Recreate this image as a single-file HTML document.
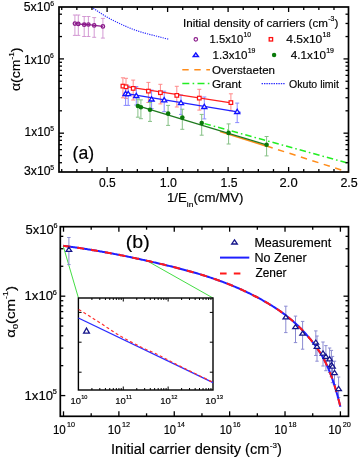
<!DOCTYPE html>
<html><head><meta charset="utf-8"><style>
html,body{margin:0;padding:0;background:#fff;}
svg{display:block;filter:blur(0.3px);}
text{font-family:"Liberation Sans", sans-serif;fill:#000;stroke:#000;stroke-width:0.15px;}
</style></head><body>
<svg width="359" height="459" viewBox="0 0 359 459">
<rect width="359" height="459" fill="#fff"/>
<polyline points="91.30,7.00 92.19,7.57 93.27,8.29 94.53,9.13 95.94,10.08 97.49,11.11 99.14,12.19 100.88,13.32 102.68,14.47 104.52,15.61 106.39,16.73 108.26,17.80 110.10,18.80 111.97,19.77 113.91,20.76 115.91,21.76 117.97,22.76 120.07,23.76 122.21,24.75 124.36,25.72 126.53,26.67 128.70,27.59 130.86,28.47 132.99,29.31 135.10,30.10 137.24,30.85 139.47,31.57 141.75,32.26 144.06,32.93 146.38,33.56 148.66,34.17 150.89,34.74 153.04,35.28 155.07,35.79 156.96,36.26 158.68,36.70 160.20,37.10 161.53,37.46 162.71,37.77 163.75,38.04 164.67,38.27 165.47,38.47 166.17,38.64 166.78,38.78 167.32,38.91 167.80,39.02 168.23,39.12 168.63,39.21 169.00,39.30" fill="none" stroke="#2a2aff" stroke-width="1.2" stroke-dasharray="1.2 1.1"/>
<line x1="204.50" y1="123.60" x2="348.50" y2="163.30" stroke="#22ee22" stroke-width="1.5" stroke-dasharray="6.5 3 1.6 3"/>
<line x1="74.90" y1="15.00" x2="74.90" y2="35.40" stroke="#cf8fcf" stroke-width="0.9" />
<line x1="72.90" y1="15.00" x2="76.90" y2="15.00" stroke="#cf8fcf" stroke-width="0.9" />
<line x1="72.90" y1="35.40" x2="76.90" y2="35.40" stroke="#cf8fcf" stroke-width="0.9" />
<line x1="78.30" y1="15.00" x2="78.30" y2="35.40" stroke="#cf8fcf" stroke-width="0.9" />
<line x1="76.30" y1="15.00" x2="80.30" y2="15.00" stroke="#cf8fcf" stroke-width="0.9" />
<line x1="76.30" y1="35.40" x2="80.30" y2="35.40" stroke="#cf8fcf" stroke-width="0.9" />
<line x1="84.20" y1="16.50" x2="84.20" y2="36.50" stroke="#cf8fcf" stroke-width="0.9" />
<line x1="82.20" y1="16.50" x2="86.20" y2="16.50" stroke="#cf8fcf" stroke-width="0.9" />
<line x1="82.20" y1="36.50" x2="86.20" y2="36.50" stroke="#cf8fcf" stroke-width="0.9" />
<line x1="88.40" y1="16.50" x2="88.40" y2="36.50" stroke="#cf8fcf" stroke-width="0.9" />
<line x1="86.40" y1="16.50" x2="90.40" y2="16.50" stroke="#cf8fcf" stroke-width="0.9" />
<line x1="86.40" y1="36.50" x2="90.40" y2="36.50" stroke="#cf8fcf" stroke-width="0.9" />
<line x1="94.20" y1="17.60" x2="94.20" y2="37.30" stroke="#cf8fcf" stroke-width="0.9" />
<line x1="92.20" y1="17.60" x2="96.20" y2="17.60" stroke="#cf8fcf" stroke-width="0.9" />
<line x1="92.20" y1="37.30" x2="96.20" y2="37.30" stroke="#cf8fcf" stroke-width="0.9" />
<line x1="102.90" y1="18.40" x2="102.90" y2="38.10" stroke="#cf8fcf" stroke-width="0.9" />
<line x1="100.90" y1="18.40" x2="104.90" y2="18.40" stroke="#cf8fcf" stroke-width="0.9" />
<line x1="100.90" y1="38.10" x2="104.90" y2="38.10" stroke="#cf8fcf" stroke-width="0.9" />
<polyline points="74.90,23.60 78.30,23.90 84.20,24.70 88.40,24.50 94.20,25.40 102.90,26.40" fill="none" stroke="#8a1a8a" stroke-width="1.2" />
<circle cx="74.9" cy="23.6" r="1.7" fill="none" stroke="#8a1a8a" stroke-width="1.3"/>
<circle cx="78.3" cy="23.9" r="1.7" fill="none" stroke="#8a1a8a" stroke-width="1.3"/>
<circle cx="84.2" cy="24.7" r="1.7" fill="none" stroke="#8a1a8a" stroke-width="1.3"/>
<circle cx="88.4" cy="24.5" r="1.7" fill="none" stroke="#8a1a8a" stroke-width="1.3"/>
<circle cx="94.2" cy="25.4" r="1.7" fill="none" stroke="#8a1a8a" stroke-width="1.3"/>
<circle cx="102.9" cy="26.4" r="1.7" fill="none" stroke="#8a1a8a" stroke-width="1.3"/>
<line x1="122.90" y1="77.80" x2="122.90" y2="97.80" stroke="#ff8a8a" stroke-width="1.0" />
<line x1="120.90" y1="77.80" x2="124.90" y2="77.80" stroke="#ff8a8a" stroke-width="1.0" />
<line x1="120.90" y1="97.80" x2="124.90" y2="97.80" stroke="#ff8a8a" stroke-width="1.0" />
<line x1="126.00" y1="78.30" x2="126.00" y2="98.50" stroke="#ff8a8a" stroke-width="1.0" />
<line x1="124.00" y1="78.30" x2="128.00" y2="78.30" stroke="#ff8a8a" stroke-width="1.0" />
<line x1="124.00" y1="98.50" x2="128.00" y2="98.50" stroke="#ff8a8a" stroke-width="1.0" />
<line x1="133.20" y1="80.10" x2="133.20" y2="100.00" stroke="#ff8a8a" stroke-width="1.0" />
<line x1="131.20" y1="80.10" x2="135.20" y2="80.10" stroke="#ff8a8a" stroke-width="1.0" />
<line x1="131.20" y1="100.00" x2="135.20" y2="100.00" stroke="#ff8a8a" stroke-width="1.0" />
<line x1="148.40" y1="82.40" x2="148.40" y2="102.50" stroke="#ff8a8a" stroke-width="1.0" />
<line x1="146.40" y1="82.40" x2="150.40" y2="82.40" stroke="#ff8a8a" stroke-width="1.0" />
<line x1="146.40" y1="102.50" x2="150.40" y2="102.50" stroke="#ff8a8a" stroke-width="1.0" />
<line x1="160.40" y1="84.30" x2="160.40" y2="103.90" stroke="#ff8a8a" stroke-width="1.0" />
<line x1="158.40" y1="84.30" x2="162.40" y2="84.30" stroke="#ff8a8a" stroke-width="1.0" />
<line x1="158.40" y1="103.90" x2="162.40" y2="103.90" stroke="#ff8a8a" stroke-width="1.0" />
<line x1="176.80" y1="86.30" x2="176.80" y2="107.00" stroke="#ff8a8a" stroke-width="1.0" />
<line x1="174.80" y1="86.30" x2="178.80" y2="86.30" stroke="#ff8a8a" stroke-width="1.0" />
<line x1="174.80" y1="107.00" x2="178.80" y2="107.00" stroke="#ff8a8a" stroke-width="1.0" />
<line x1="199.30" y1="89.30" x2="199.30" y2="110.10" stroke="#ff8a8a" stroke-width="1.0" />
<line x1="197.30" y1="89.30" x2="201.30" y2="89.30" stroke="#ff8a8a" stroke-width="1.0" />
<line x1="197.30" y1="110.10" x2="201.30" y2="110.10" stroke="#ff8a8a" stroke-width="1.0" />
<line x1="230.90" y1="93.80" x2="230.90" y2="110.80" stroke="#ff8a8a" stroke-width="1.0" />
<line x1="228.90" y1="93.80" x2="232.90" y2="93.80" stroke="#ff8a8a" stroke-width="1.0" />
<line x1="228.90" y1="110.80" x2="232.90" y2="110.80" stroke="#ff8a8a" stroke-width="1.0" />
<line x1="125.60" y1="86.00" x2="125.60" y2="105.40" stroke="#8a8aff" stroke-width="1.0" />
<line x1="123.60" y1="86.00" x2="127.60" y2="86.00" stroke="#8a8aff" stroke-width="1.0" />
<line x1="123.60" y1="105.40" x2="127.60" y2="105.40" stroke="#8a8aff" stroke-width="1.0" />
<line x1="128.20" y1="86.00" x2="128.20" y2="105.40" stroke="#8a8aff" stroke-width="1.0" />
<line x1="126.20" y1="86.00" x2="130.20" y2="86.00" stroke="#8a8aff" stroke-width="1.0" />
<line x1="126.20" y1="105.40" x2="130.20" y2="105.40" stroke="#8a8aff" stroke-width="1.0" />
<line x1="136.30" y1="86.60" x2="136.30" y2="105.00" stroke="#8a8aff" stroke-width="1.0" />
<line x1="134.30" y1="86.60" x2="138.30" y2="86.60" stroke="#8a8aff" stroke-width="1.0" />
<line x1="134.30" y1="105.00" x2="138.30" y2="105.00" stroke="#8a8aff" stroke-width="1.0" />
<line x1="151.60" y1="90.10" x2="151.60" y2="108.50" stroke="#8a8aff" stroke-width="1.0" />
<line x1="149.60" y1="90.10" x2="153.60" y2="90.10" stroke="#8a8aff" stroke-width="1.0" />
<line x1="149.60" y1="108.50" x2="153.60" y2="108.50" stroke="#8a8aff" stroke-width="1.0" />
<line x1="164.20" y1="91.20" x2="164.20" y2="111.70" stroke="#8a8aff" stroke-width="1.0" />
<line x1="162.20" y1="91.20" x2="166.20" y2="91.20" stroke="#8a8aff" stroke-width="1.0" />
<line x1="162.20" y1="111.70" x2="166.20" y2="111.70" stroke="#8a8aff" stroke-width="1.0" />
<line x1="181.00" y1="95.00" x2="181.00" y2="114.40" stroke="#8a8aff" stroke-width="1.0" />
<line x1="179.00" y1="95.00" x2="183.00" y2="95.00" stroke="#8a8aff" stroke-width="1.0" />
<line x1="179.00" y1="114.40" x2="183.00" y2="114.40" stroke="#8a8aff" stroke-width="1.0" />
<line x1="204.30" y1="97.00" x2="204.30" y2="118.90" stroke="#8a8aff" stroke-width="1.0" />
<line x1="202.30" y1="97.00" x2="206.30" y2="97.00" stroke="#8a8aff" stroke-width="1.0" />
<line x1="202.30" y1="118.90" x2="206.30" y2="118.90" stroke="#8a8aff" stroke-width="1.0" />
<line x1="237.20" y1="103.10" x2="237.20" y2="122.60" stroke="#8a8aff" stroke-width="1.0" />
<line x1="235.20" y1="103.10" x2="239.20" y2="103.10" stroke="#8a8aff" stroke-width="1.0" />
<line x1="235.20" y1="122.60" x2="239.20" y2="122.60" stroke="#8a8aff" stroke-width="1.0" />
<line x1="137.90" y1="99.20" x2="137.90" y2="117.20" stroke="#86c086" stroke-width="1.0" />
<line x1="135.90" y1="99.20" x2="139.90" y2="99.20" stroke="#86c086" stroke-width="1.0" />
<line x1="135.90" y1="117.20" x2="139.90" y2="117.20" stroke="#86c086" stroke-width="1.0" />
<line x1="140.90" y1="99.90" x2="140.90" y2="118.70" stroke="#86c086" stroke-width="1.0" />
<line x1="138.90" y1="99.90" x2="142.90" y2="99.90" stroke="#86c086" stroke-width="1.0" />
<line x1="138.90" y1="118.70" x2="142.90" y2="118.70" stroke="#86c086" stroke-width="1.0" />
<line x1="150.00" y1="102.50" x2="150.00" y2="121.40" stroke="#86c086" stroke-width="1.0" />
<line x1="148.00" y1="102.50" x2="152.00" y2="102.50" stroke="#86c086" stroke-width="1.0" />
<line x1="148.00" y1="121.40" x2="152.00" y2="121.40" stroke="#86c086" stroke-width="1.0" />
<line x1="168.10" y1="105.40" x2="168.10" y2="125.40" stroke="#86c086" stroke-width="1.0" />
<line x1="166.10" y1="105.40" x2="170.10" y2="105.40" stroke="#86c086" stroke-width="1.0" />
<line x1="166.10" y1="125.40" x2="170.10" y2="125.40" stroke="#86c086" stroke-width="1.0" />
<line x1="182.30" y1="109.20" x2="182.30" y2="129.30" stroke="#86c086" stroke-width="1.0" />
<line x1="180.30" y1="109.20" x2="184.30" y2="109.20" stroke="#86c086" stroke-width="1.0" />
<line x1="180.30" y1="129.30" x2="184.30" y2="129.30" stroke="#86c086" stroke-width="1.0" />
<line x1="201.70" y1="114.40" x2="201.70" y2="135.20" stroke="#86c086" stroke-width="1.0" />
<line x1="199.70" y1="114.40" x2="203.70" y2="114.40" stroke="#86c086" stroke-width="1.0" />
<line x1="199.70" y1="135.20" x2="203.70" y2="135.20" stroke="#86c086" stroke-width="1.0" />
<line x1="228.60" y1="123.90" x2="228.60" y2="144.00" stroke="#86c086" stroke-width="1.0" />
<line x1="226.60" y1="123.90" x2="230.60" y2="123.90" stroke="#86c086" stroke-width="1.0" />
<line x1="226.60" y1="144.00" x2="230.60" y2="144.00" stroke="#86c086" stroke-width="1.0" />
<line x1="266.60" y1="136.50" x2="266.60" y2="155.90" stroke="#86c086" stroke-width="1.0" />
<line x1="264.60" y1="136.50" x2="268.60" y2="136.50" stroke="#86c086" stroke-width="1.0" />
<line x1="264.60" y1="155.90" x2="268.60" y2="155.90" stroke="#86c086" stroke-width="1.0" />
<line x1="121.40" y1="85.90" x2="232.70" y2="103.10" stroke="#ff2020" stroke-width="1.3" />
<line x1="123.70" y1="93.20" x2="240.50" y2="112.30" stroke="#2020ff" stroke-width="1.3" />
<line x1="220.00" y1="131.60" x2="266.60" y2="146.20" stroke="#ff8c1a" stroke-width="1.5" />
<line x1="136.40" y1="105.30" x2="266.50" y2="144.80" stroke="#1f7a1f" stroke-width="1.3" />
<line x1="266.60" y1="146.00" x2="348.50" y2="172.30" stroke="#ff8c1a" stroke-width="1.5" stroke-dasharray="6.4 5.6"/>
<rect x="121.10" y="84.30" width="3.6" height="3.6" fill="#fff" stroke="#ff1010" stroke-width="1.2"/>
<rect x="124.20" y="85.00" width="3.6" height="3.6" fill="#fff" stroke="#ff1010" stroke-width="1.2"/>
<rect x="131.40" y="86.60" width="3.6" height="3.6" fill="#fff" stroke="#ff1010" stroke-width="1.2"/>
<rect x="146.60" y="89.30" width="3.6" height="3.6" fill="#fff" stroke="#ff1010" stroke-width="1.2"/>
<rect x="158.60" y="90.90" width="3.6" height="3.6" fill="#fff" stroke="#ff1010" stroke-width="1.2"/>
<rect x="175.00" y="93.60" width="3.6" height="3.6" fill="#fff" stroke="#ff1010" stroke-width="1.2"/>
<rect x="197.50" y="96.30" width="3.6" height="3.6" fill="#fff" stroke="#ff1010" stroke-width="1.2"/>
<rect x="229.10" y="100.80" width="3.6" height="3.6" fill="#fff" stroke="#ff1010" stroke-width="1.2"/>
<polygon points="125.60,91.30 128.20,95.50 123.00,95.50" fill="#fff" stroke="#1010ff" stroke-width="1.3"/>
<polygon points="128.20,91.40 130.80,95.60 125.60,95.60" fill="#fff" stroke="#1010ff" stroke-width="1.3"/>
<polygon points="136.30,93.30 138.90,97.50 133.70,97.50" fill="#fff" stroke="#1010ff" stroke-width="1.3"/>
<polygon points="151.60,96.80 154.20,101.00 149.00,101.00" fill="#fff" stroke="#1010ff" stroke-width="1.3"/>
<polygon points="164.20,97.60 166.80,101.80 161.60,101.80" fill="#fff" stroke="#1010ff" stroke-width="1.3"/>
<polygon points="181.00,100.50 183.60,104.70 178.40,104.70" fill="#fff" stroke="#1010ff" stroke-width="1.3"/>
<polygon points="204.30,104.30 206.90,108.50 201.70,108.50" fill="#fff" stroke="#1010ff" stroke-width="1.3"/>
<polygon points="237.20,109.30 239.80,113.50 234.60,113.50" fill="#fff" stroke="#1010ff" stroke-width="1.3"/>
<circle cx="137.9" cy="106.0" r="2.3" fill="#0a7a0a"/>
<circle cx="140.9" cy="107.2" r="2.3" fill="#0a7a0a"/>
<circle cx="150.0" cy="109.7" r="2.3" fill="#0a7a0a"/>
<circle cx="168.1" cy="113.6" r="2.3" fill="#0a7a0a"/>
<circle cx="182.3" cy="117.6" r="2.3" fill="#0a7a0a"/>
<circle cx="201.7" cy="123.1" r="2.3" fill="#0a7a0a"/>
<circle cx="228.6" cy="132.9" r="2.3" fill="#0a7a0a"/>
<circle cx="266.6" cy="144.8" r="2.3" fill="#0a7a0a"/>
<rect x="59.0" y="7.0" width="289.5" height="165.0" fill="none" stroke="#000" stroke-width="1.7"/>
<line x1="61.72" y1="172.00" x2="61.72" y2="169.00" stroke="#000" stroke-width="1.3" />
<line x1="61.72" y1="7.00" x2="61.72" y2="10.00" stroke="#000" stroke-width="1.3" />
<line x1="76.85" y1="172.00" x2="76.85" y2="169.00" stroke="#000" stroke-width="1.3" />
<line x1="76.85" y1="7.00" x2="76.85" y2="10.00" stroke="#000" stroke-width="1.3" />
<line x1="91.97" y1="172.00" x2="91.97" y2="169.00" stroke="#000" stroke-width="1.3" />
<line x1="91.97" y1="7.00" x2="91.97" y2="10.00" stroke="#000" stroke-width="1.3" />
<line x1="107.10" y1="172.00" x2="107.10" y2="167.00" stroke="#000" stroke-width="1.3" />
<line x1="107.10" y1="7.00" x2="107.10" y2="12.00" stroke="#000" stroke-width="1.3" />
<line x1="122.22" y1="172.00" x2="122.22" y2="169.00" stroke="#000" stroke-width="1.3" />
<line x1="122.22" y1="7.00" x2="122.22" y2="10.00" stroke="#000" stroke-width="1.3" />
<line x1="137.35" y1="172.00" x2="137.35" y2="169.00" stroke="#000" stroke-width="1.3" />
<line x1="137.35" y1="7.00" x2="137.35" y2="10.00" stroke="#000" stroke-width="1.3" />
<line x1="152.47" y1="172.00" x2="152.47" y2="169.00" stroke="#000" stroke-width="1.3" />
<line x1="152.47" y1="7.00" x2="152.47" y2="10.00" stroke="#000" stroke-width="1.3" />
<line x1="167.60" y1="172.00" x2="167.60" y2="167.00" stroke="#000" stroke-width="1.3" />
<line x1="167.60" y1="7.00" x2="167.60" y2="12.00" stroke="#000" stroke-width="1.3" />
<line x1="182.72" y1="172.00" x2="182.72" y2="169.00" stroke="#000" stroke-width="1.3" />
<line x1="182.72" y1="7.00" x2="182.72" y2="10.00" stroke="#000" stroke-width="1.3" />
<line x1="197.85" y1="172.00" x2="197.85" y2="169.00" stroke="#000" stroke-width="1.3" />
<line x1="197.85" y1="7.00" x2="197.85" y2="10.00" stroke="#000" stroke-width="1.3" />
<line x1="212.97" y1="172.00" x2="212.97" y2="169.00" stroke="#000" stroke-width="1.3" />
<line x1="212.97" y1="7.00" x2="212.97" y2="10.00" stroke="#000" stroke-width="1.3" />
<line x1="228.10" y1="172.00" x2="228.10" y2="167.00" stroke="#000" stroke-width="1.3" />
<line x1="228.10" y1="7.00" x2="228.10" y2="12.00" stroke="#000" stroke-width="1.3" />
<line x1="243.22" y1="172.00" x2="243.22" y2="169.00" stroke="#000" stroke-width="1.3" />
<line x1="243.22" y1="7.00" x2="243.22" y2="10.00" stroke="#000" stroke-width="1.3" />
<line x1="258.35" y1="172.00" x2="258.35" y2="169.00" stroke="#000" stroke-width="1.3" />
<line x1="258.35" y1="7.00" x2="258.35" y2="10.00" stroke="#000" stroke-width="1.3" />
<line x1="273.48" y1="172.00" x2="273.48" y2="169.00" stroke="#000" stroke-width="1.3" />
<line x1="273.48" y1="7.00" x2="273.48" y2="10.00" stroke="#000" stroke-width="1.3" />
<line x1="288.60" y1="172.00" x2="288.60" y2="167.00" stroke="#000" stroke-width="1.3" />
<line x1="288.60" y1="7.00" x2="288.60" y2="12.00" stroke="#000" stroke-width="1.3" />
<line x1="303.73" y1="172.00" x2="303.73" y2="169.00" stroke="#000" stroke-width="1.3" />
<line x1="303.73" y1="7.00" x2="303.73" y2="10.00" stroke="#000" stroke-width="1.3" />
<line x1="318.85" y1="172.00" x2="318.85" y2="169.00" stroke="#000" stroke-width="1.3" />
<line x1="318.85" y1="7.00" x2="318.85" y2="10.00" stroke="#000" stroke-width="1.3" />
<line x1="333.98" y1="172.00" x2="333.98" y2="169.00" stroke="#000" stroke-width="1.3" />
<line x1="333.98" y1="7.00" x2="333.98" y2="10.00" stroke="#000" stroke-width="1.3" />
<line x1="59.00" y1="162.72" x2="62.00" y2="162.72" stroke="#000" stroke-width="1.3" />
<line x1="348.50" y1="162.72" x2="345.50" y2="162.72" stroke="#000" stroke-width="1.3" />
<line x1="59.00" y1="155.52" x2="62.00" y2="155.52" stroke="#000" stroke-width="1.3" />
<line x1="348.50" y1="155.52" x2="345.50" y2="155.52" stroke="#000" stroke-width="1.3" />
<line x1="59.00" y1="149.64" x2="62.00" y2="149.64" stroke="#000" stroke-width="1.3" />
<line x1="348.50" y1="149.64" x2="345.50" y2="149.64" stroke="#000" stroke-width="1.3" />
<line x1="59.00" y1="144.67" x2="62.00" y2="144.67" stroke="#000" stroke-width="1.3" />
<line x1="348.50" y1="144.67" x2="345.50" y2="144.67" stroke="#000" stroke-width="1.3" />
<line x1="59.00" y1="140.36" x2="62.00" y2="140.36" stroke="#000" stroke-width="1.3" />
<line x1="348.50" y1="140.36" x2="345.50" y2="140.36" stroke="#000" stroke-width="1.3" />
<line x1="59.00" y1="136.56" x2="62.00" y2="136.56" stroke="#000" stroke-width="1.3" />
<line x1="348.50" y1="136.56" x2="345.50" y2="136.56" stroke="#000" stroke-width="1.3" />
<line x1="59.00" y1="133.17" x2="64.00" y2="133.17" stroke="#000" stroke-width="1.3" />
<line x1="348.50" y1="133.17" x2="343.50" y2="133.17" stroke="#000" stroke-width="1.3" />
<line x1="59.00" y1="110.81" x2="62.00" y2="110.81" stroke="#000" stroke-width="1.3" />
<line x1="348.50" y1="110.81" x2="345.50" y2="110.81" stroke="#000" stroke-width="1.3" />
<line x1="59.00" y1="97.73" x2="62.00" y2="97.73" stroke="#000" stroke-width="1.3" />
<line x1="348.50" y1="97.73" x2="345.50" y2="97.73" stroke="#000" stroke-width="1.3" />
<line x1="59.00" y1="88.46" x2="62.00" y2="88.46" stroke="#000" stroke-width="1.3" />
<line x1="348.50" y1="88.46" x2="345.50" y2="88.46" stroke="#000" stroke-width="1.3" />
<line x1="59.00" y1="81.26" x2="62.00" y2="81.26" stroke="#000" stroke-width="1.3" />
<line x1="348.50" y1="81.26" x2="345.50" y2="81.26" stroke="#000" stroke-width="1.3" />
<line x1="59.00" y1="75.38" x2="62.00" y2="75.38" stroke="#000" stroke-width="1.3" />
<line x1="348.50" y1="75.38" x2="345.50" y2="75.38" stroke="#000" stroke-width="1.3" />
<line x1="59.00" y1="70.41" x2="62.00" y2="70.41" stroke="#000" stroke-width="1.3" />
<line x1="348.50" y1="70.41" x2="345.50" y2="70.41" stroke="#000" stroke-width="1.3" />
<line x1="59.00" y1="66.10" x2="62.00" y2="66.10" stroke="#000" stroke-width="1.3" />
<line x1="348.50" y1="66.10" x2="345.50" y2="66.10" stroke="#000" stroke-width="1.3" />
<line x1="59.00" y1="62.30" x2="62.00" y2="62.30" stroke="#000" stroke-width="1.3" />
<line x1="348.50" y1="62.30" x2="345.50" y2="62.30" stroke="#000" stroke-width="1.3" />
<line x1="59.00" y1="58.91" x2="64.00" y2="58.91" stroke="#000" stroke-width="1.3" />
<line x1="348.50" y1="58.91" x2="343.50" y2="58.91" stroke="#000" stroke-width="1.3" />
<line x1="59.00" y1="36.55" x2="62.00" y2="36.55" stroke="#000" stroke-width="1.3" />
<line x1="348.50" y1="36.55" x2="345.50" y2="36.55" stroke="#000" stroke-width="1.3" />
<line x1="59.00" y1="23.47" x2="62.00" y2="23.47" stroke="#000" stroke-width="1.3" />
<line x1="348.50" y1="23.47" x2="345.50" y2="23.47" stroke="#000" stroke-width="1.3" />
<line x1="59.00" y1="14.20" x2="62.00" y2="14.20" stroke="#000" stroke-width="1.3" />
<line x1="348.50" y1="14.20" x2="345.50" y2="14.20" stroke="#000" stroke-width="1.3" />
<circle cx="195.8" cy="39.3" r="1.75" fill="#fff" stroke="#8a1a8a" stroke-width="1.15"/>
<rect x="269.2" y="37.6" width="3.4" height="3.4" fill="#fff" stroke="#ff1010" stroke-width="1.3"/>
<polygon points="195.8,52.9 198.4,56.5 193.2,56.5" fill="#fff" stroke="#1010ff" stroke-width="1.4"/>
<circle cx="274.1" cy="55.0" r="2.2" fill="#0a7a0a"/>
<line x1="182.30" y1="69.70" x2="210.00" y2="69.70" stroke="#ff8c1a" stroke-width="1.5" stroke-dasharray="6.4 5.6"/>
<line x1="182.30" y1="83.60" x2="210.00" y2="83.60" stroke="#22ee22" stroke-width="1.5" stroke-dasharray="7 3.3 1.6 3.3"/>
<line x1="261.60" y1="83.60" x2="284.60" y2="83.60" stroke="#2a2aff" stroke-width="1.4" stroke-dasharray="1.4 1.0"/>
<line x1="63.20" y1="246.00" x2="78.40" y2="297.80" stroke="#44dd44" stroke-width="1.0" />
<line x1="146.30" y1="260.40" x2="213.00" y2="298.00" stroke="#44dd44" stroke-width="1.0" />
<line x1="68.90" y1="237.50" x2="68.90" y2="264.60" stroke="#8c8cd2" stroke-width="1.0" />
<line x1="67.20" y1="237.50" x2="70.60" y2="237.50" stroke="#8c8cd2" stroke-width="1.0" />
<line x1="67.20" y1="264.60" x2="70.60" y2="264.60" stroke="#8c8cd2" stroke-width="1.0" />
<line x1="285.80" y1="306.20" x2="285.80" y2="332.60" stroke="#8c8cd2" stroke-width="1.0" />
<line x1="284.10" y1="306.20" x2="287.50" y2="306.20" stroke="#8c8cd2" stroke-width="1.0" />
<line x1="284.10" y1="332.60" x2="287.50" y2="332.60" stroke="#8c8cd2" stroke-width="1.0" />
<line x1="295.50" y1="316.10" x2="295.50" y2="342.60" stroke="#8c8cd2" stroke-width="1.0" />
<line x1="293.80" y1="316.10" x2="297.20" y2="316.10" stroke="#8c8cd2" stroke-width="1.0" />
<line x1="293.80" y1="342.60" x2="297.20" y2="342.60" stroke="#8c8cd2" stroke-width="1.0" />
<line x1="302.60" y1="321.40" x2="302.60" y2="349.20" stroke="#8c8cd2" stroke-width="1.0" />
<line x1="300.90" y1="321.40" x2="304.30" y2="321.40" stroke="#8c8cd2" stroke-width="1.0" />
<line x1="300.90" y1="349.20" x2="304.30" y2="349.20" stroke="#8c8cd2" stroke-width="1.0" />
<line x1="315.80" y1="330.90" x2="315.80" y2="355.50" stroke="#8c8cd2" stroke-width="1.0" />
<line x1="314.10" y1="330.90" x2="317.50" y2="330.90" stroke="#8c8cd2" stroke-width="1.0" />
<line x1="314.10" y1="355.50" x2="317.50" y2="355.50" stroke="#8c8cd2" stroke-width="1.0" />
<line x1="317.00" y1="336.00" x2="317.00" y2="361.20" stroke="#8c8cd2" stroke-width="1.0" />
<line x1="315.30" y1="336.00" x2="318.70" y2="336.00" stroke="#8c8cd2" stroke-width="1.0" />
<line x1="315.30" y1="361.20" x2="318.70" y2="361.20" stroke="#8c8cd2" stroke-width="1.0" />
<line x1="323.00" y1="342.00" x2="323.00" y2="366.00" stroke="#8c8cd2" stroke-width="1.0" />
<line x1="321.30" y1="342.00" x2="324.70" y2="342.00" stroke="#8c8cd2" stroke-width="1.0" />
<line x1="321.30" y1="366.00" x2="324.70" y2="366.00" stroke="#8c8cd2" stroke-width="1.0" />
<line x1="325.90" y1="345.60" x2="325.90" y2="370.70" stroke="#8c8cd2" stroke-width="1.0" />
<line x1="324.20" y1="345.60" x2="327.60" y2="345.60" stroke="#8c8cd2" stroke-width="1.0" />
<line x1="324.20" y1="370.70" x2="327.60" y2="370.70" stroke="#8c8cd2" stroke-width="1.0" />
<line x1="329.60" y1="348.00" x2="329.60" y2="372.50" stroke="#8c8cd2" stroke-width="1.0" />
<line x1="327.90" y1="348.00" x2="331.30" y2="348.00" stroke="#8c8cd2" stroke-width="1.0" />
<line x1="327.90" y1="372.50" x2="331.30" y2="372.50" stroke="#8c8cd2" stroke-width="1.0" />
<line x1="331.40" y1="350.40" x2="331.40" y2="376.70" stroke="#8c8cd2" stroke-width="1.0" />
<line x1="329.70" y1="350.40" x2="333.10" y2="350.40" stroke="#8c8cd2" stroke-width="1.0" />
<line x1="329.70" y1="376.70" x2="333.10" y2="376.70" stroke="#8c8cd2" stroke-width="1.0" />
<line x1="332.50" y1="356.40" x2="332.50" y2="382.70" stroke="#8c8cd2" stroke-width="1.0" />
<line x1="330.80" y1="356.40" x2="334.20" y2="356.40" stroke="#8c8cd2" stroke-width="1.0" />
<line x1="330.80" y1="382.70" x2="334.20" y2="382.70" stroke="#8c8cd2" stroke-width="1.0" />
<line x1="334.50" y1="361.20" x2="334.50" y2="384.50" stroke="#8c8cd2" stroke-width="1.0" />
<line x1="332.80" y1="361.20" x2="336.20" y2="361.20" stroke="#8c8cd2" stroke-width="1.0" />
<line x1="332.80" y1="384.50" x2="336.20" y2="384.50" stroke="#8c8cd2" stroke-width="1.0" />
<line x1="338.60" y1="377.00" x2="338.60" y2="397.50" stroke="#8c8cd2" stroke-width="1.0" />
<line x1="336.90" y1="377.00" x2="340.30" y2="377.00" stroke="#8c8cd2" stroke-width="1.0" />
<line x1="336.90" y1="397.50" x2="340.30" y2="397.50" stroke="#8c8cd2" stroke-width="1.0" />
<polyline points="63.30,245.79 64.23,245.91 65.15,246.03 66.08,246.15 67.01,246.27 67.93,246.40 68.86,246.52 69.79,246.65 70.71,246.77 71.64,246.90 72.57,247.03 73.49,247.16 74.42,247.29 75.35,247.42 76.27,247.56 77.20,247.69 78.13,247.83 79.05,247.97 79.98,248.10 80.91,248.24 81.84,248.38 82.76,248.52 83.69,248.67 84.62,248.81 85.54,248.95 86.47,249.10 87.40,249.25 88.32,249.39 89.25,249.54 90.18,249.69 91.10,249.84 92.03,250.00 92.96,250.15 93.88,250.30 94.81,250.46 95.74,250.61 96.66,250.77 97.59,250.93 98.52,251.09 99.44,251.25 100.37,251.41 101.30,251.57 102.22,251.74 103.15,251.90 104.08,252.07 105.00,252.23 105.93,252.40 106.86,252.57 107.78,252.74 108.71,252.91 109.64,253.08 110.56,253.25 111.49,253.42 112.42,253.60 113.34,253.77 114.27,253.95 115.20,254.13 116.13,254.30 117.05,254.48 117.98,254.66 118.91,254.84 119.83,255.03 120.76,255.21 121.69,255.39 122.61,255.58 123.54,255.76 124.47,255.95 125.39,256.14 126.32,256.32 127.25,256.51 128.17,256.70 129.10,256.89 130.03,257.09 130.95,257.28 131.88,257.47 132.81,257.67 133.73,257.86 134.66,258.06 135.59,258.25 136.51,258.45 137.44,258.65 138.37,258.85 139.29,259.05 140.22,259.25 141.15,259.45 142.07,259.66 143.00,259.86 143.93,260.06 144.85,260.27 145.78,260.48 146.71,260.68 147.63,260.89 148.56,261.10 149.49,261.31 150.42,261.52 151.34,261.73 152.27,261.94 153.20,262.16 154.12,262.37 155.05,262.58 155.98,262.80 156.90,263.01 157.83,263.23 158.76,263.45 159.68,263.67 160.61,263.88 161.54,264.10 162.46,264.32 163.39,264.55 164.32,264.77 165.24,264.99 166.17,265.21 167.10,265.44 168.02,265.66 168.95,265.89 169.88,266.12 170.80,266.34 171.73,266.57 172.66,266.80 173.58,267.04 174.51,267.27 175.44,267.50 176.36,267.74 177.29,267.97 178.22,268.21 179.14,268.45 180.07,268.69 181.00,268.93 181.92,269.17 182.85,269.42 183.78,269.67 184.71,269.91 185.63,270.16 186.56,270.41 187.49,270.67 188.41,270.92 189.34,271.18 190.27,271.44 191.19,271.70 192.12,271.96 193.05,272.22 193.97,272.49 194.90,272.75 195.83,273.02 196.75,273.30 197.68,273.57 198.61,273.85 199.53,274.12 200.46,274.40 201.39,274.69 202.31,274.97 203.24,275.26 204.17,275.55 205.09,275.84 206.02,276.14 206.95,276.43 207.87,276.73 208.80,277.04 209.73,277.34 210.65,277.65 211.58,277.96 212.51,278.27 213.43,278.59 214.36,278.90 215.29,279.23 216.21,279.55 217.14,279.88 218.07,280.21 218.99,280.54 219.92,280.88 220.85,281.21 221.78,281.56 222.70,281.90 223.63,282.25 224.56,282.60 225.48,282.96 226.41,283.32 227.34,283.68 228.26,284.04 229.19,284.41 230.12,284.78 231.04,285.16 231.97,285.54 232.90,285.92 233.82,286.30 234.75,286.69 235.68,287.09 236.60,287.48 237.53,287.88 238.46,288.29 239.38,288.70 240.31,289.11 241.24,289.52 242.16,289.94 243.09,290.37 244.02,290.80 244.94,291.23 245.87,291.66 246.80,292.10 247.72,292.55 248.65,293.00 249.58,293.45 250.50,293.91 251.43,294.37 252.36,294.83 253.28,295.30 254.21,295.78 255.14,296.26 256.07,296.74 256.99,297.23 257.92,297.72 258.85,298.22 259.77,298.72 260.70,299.23 261.63,299.74 262.55,300.25 263.48,300.78 264.41,301.30 265.33,301.83 266.26,302.37 267.19,302.91 268.11,303.45 269.04,304.00 269.97,304.56 270.89,305.12 271.82,305.69 272.75,306.27 273.67,306.85 274.60,307.44 275.53,308.04 276.45,308.65 277.38,309.26 278.31,309.88 279.23,310.52 280.16,311.16 281.09,311.81 282.01,312.47 282.94,313.14 283.87,313.82 284.79,314.52 285.72,315.22 286.65,315.94 287.57,316.67 288.50,317.41 289.43,318.16 290.36,318.93 291.28,319.71 292.21,320.50 293.14,321.31 294.06,322.13 294.99,322.97 295.92,323.82 296.84,324.68 297.77,325.57 298.70,326.46 299.62,327.38 300.55,328.31 301.48,329.26 302.40,330.22 303.33,331.20 304.26,332.20 305.18,333.22 306.11,334.26 307.04,335.32 307.96,336.39 308.89,337.49 309.82,338.60 310.74,339.74 311.67,340.89 312.60,342.07 313.52,343.27 314.45,344.49 315.38,345.73 316.30,347.01 317.23,348.33 318.16,349.68 319.08,351.09 320.01,352.54 320.94,354.05 321.86,355.61 322.79,357.24 323.72,358.94 324.65,360.72 325.57,362.57 326.50,364.51 327.43,366.53 328.35,368.65 329.28,370.87 330.21,373.18 331.13,375.61 332.06,378.15 332.99,380.80 333.91,383.57 334.84,386.47 335.77,389.50 336.69,392.67 337.62,395.97 338.55,399.42 339.47,403.02 340.40,406.77" fill="none" stroke="#1f1fff" stroke-width="2.0" />
<polyline points="63.30,245.79 64.23,245.91 65.15,246.03 66.08,246.15 67.01,246.27 67.93,246.40 68.86,246.52 69.79,246.65 70.71,246.77 71.64,246.90 72.57,247.03 73.49,247.16 74.42,247.29 75.35,247.42 76.27,247.56 77.20,247.69 78.13,247.83 79.05,247.97 79.98,248.10 80.91,248.24 81.84,248.38 82.76,248.52 83.69,248.67 84.62,248.81 85.54,248.95 86.47,249.10 87.40,249.25 88.32,249.39 89.25,249.54 90.18,249.69 91.10,249.84 92.03,250.00 92.96,250.15 93.88,250.30 94.81,250.46 95.74,250.61 96.66,250.77 97.59,250.93 98.52,251.09 99.44,251.25 100.37,251.41 101.30,251.57 102.22,251.74 103.15,251.90 104.08,252.07 105.00,252.23 105.93,252.40 106.86,252.57 107.78,252.74 108.71,252.91 109.64,253.08 110.56,253.25 111.49,253.42 112.42,253.60 113.34,253.77 114.27,253.95 115.20,254.13 116.13,254.30 117.05,254.48 117.98,254.66 118.91,254.84 119.83,255.03 120.76,255.21 121.69,255.39 122.61,255.58 123.54,255.76 124.47,255.95 125.39,256.14 126.32,256.32 127.25,256.51 128.17,256.70 129.10,256.89 130.03,257.09 130.95,257.28 131.88,257.47 132.81,257.67 133.73,257.86 134.66,258.06 135.59,258.25 136.51,258.45 137.44,258.65 138.37,258.85 139.29,259.05 140.22,259.25 141.15,259.45 142.07,259.66 143.00,259.86 143.93,260.06 144.85,260.27 145.78,260.48 146.71,260.68 147.63,260.89 148.56,261.10 149.49,261.31 150.42,261.52 151.34,261.73 152.27,261.94 153.20,262.16 154.12,262.37 155.05,262.58 155.98,262.80 156.90,263.01 157.83,263.23 158.76,263.45 159.68,263.67 160.61,263.88 161.54,264.10 162.46,264.32 163.39,264.55 164.32,264.77 165.24,264.99 166.17,265.21 167.10,265.44 168.02,265.66 168.95,265.89 169.88,266.12 170.80,266.34 171.73,266.57 172.66,266.80 173.58,267.04 174.51,267.27 175.44,267.50 176.36,267.74 177.29,267.97 178.22,268.21 179.14,268.45 180.07,268.69 181.00,268.93 181.92,269.17 182.85,269.42 183.78,269.67 184.71,269.91 185.63,270.16 186.56,270.41 187.49,270.67 188.41,270.92 189.34,271.18 190.27,271.44 191.19,271.70 192.12,271.96 193.05,272.22 193.97,272.49 194.90,272.75 195.83,273.02 196.75,273.30 197.68,273.57 198.61,273.85 199.53,274.12 200.46,274.40 201.39,274.69 202.31,274.97 203.24,275.26 204.17,275.55 205.09,275.84 206.02,276.14 206.95,276.43 207.87,276.73 208.80,277.04 209.73,277.34 210.65,277.65 211.58,277.96 212.51,278.27 213.43,278.59 214.36,278.90 215.29,279.23 216.21,279.55 217.14,279.88 218.07,280.21 218.99,280.54 219.92,280.88 220.85,281.21 221.78,281.56 222.70,281.90 223.63,282.25 224.56,282.60 225.48,282.96 226.41,283.32 227.34,283.68 228.26,284.04 229.19,284.41 230.12,284.78 231.04,285.16 231.97,285.54 232.90,285.92 233.82,286.30 234.75,286.69 235.68,287.09 236.60,287.48 237.53,287.88 238.46,288.29 239.38,288.70 240.31,289.11 241.24,289.52 242.16,289.94 243.09,290.37 244.02,290.80 244.94,291.23 245.87,291.66 246.80,292.10 247.72,292.55 248.65,293.00 249.58,293.45 250.50,293.91 251.43,294.37 252.36,294.83 253.28,295.30 254.21,295.78 255.14,296.26 256.07,296.74 256.99,297.23 257.92,297.72 258.85,298.22 259.77,298.72 260.70,299.23 261.63,299.74 262.55,300.25 263.48,300.78 264.41,301.30 265.33,301.83 266.26,302.37 267.19,302.91 268.11,303.45 269.04,304.00 269.97,304.56 270.89,305.12 271.82,305.69 272.75,306.27 273.67,306.85 274.60,307.44 275.53,308.04 276.45,308.65 277.38,309.26 278.31,309.88 279.23,310.52 280.16,311.16 281.09,311.81 282.01,312.47 282.94,313.14 283.87,313.82 284.79,314.52 285.72,315.22 286.65,315.94 287.57,316.67 288.50,317.41 289.43,318.16 290.36,318.93 291.28,319.71 292.21,320.50 293.14,321.31 294.06,322.13 294.99,322.97 295.92,323.82 296.84,324.68 297.77,325.57 298.70,326.46 299.62,327.38 300.55,328.31 301.48,329.26 302.40,330.22 303.33,331.20 304.26,332.20 305.18,333.22 306.11,334.26 307.04,335.32 307.96,336.39 308.89,337.49 309.82,338.60 310.74,339.74 311.67,340.89 312.60,342.07 313.52,343.27 314.45,344.49 315.38,345.73 316.30,347.01 317.23,348.33 318.16,349.68 319.08,351.09 320.01,352.54 320.94,354.05 321.86,355.61 322.79,357.24 323.72,358.94 324.65,360.72 325.57,362.57 326.50,364.51 327.43,366.53 328.35,368.65 329.28,370.87 330.21,373.18 331.13,375.61 332.06,378.15 332.99,380.80 333.91,383.57 334.84,386.47 335.77,389.50 336.69,392.67 337.62,395.97 338.55,399.42 339.47,403.02 340.40,406.77" fill="none" stroke="#ff1a1a" stroke-width="2.0" stroke-dasharray="7 7"/>
<polygon points="68.90,247.20 71.70,251.30 66.10,251.30" fill="#fff" stroke="#14148a" stroke-width="1.25"/>
<polygon points="285.80,314.80 288.60,318.90 283.00,318.90" fill="#fff" stroke="#14148a" stroke-width="1.25"/>
<polygon points="295.50,324.60 298.30,328.70 292.70,328.70" fill="#fff" stroke="#14148a" stroke-width="1.25"/>
<polygon points="302.60,331.10 305.40,335.20 299.80,335.20" fill="#fff" stroke="#14148a" stroke-width="1.25"/>
<polygon points="315.80,340.00 318.60,344.10 313.00,344.10" fill="#fff" stroke="#14148a" stroke-width="1.25"/>
<polygon points="317.00,344.20 319.80,348.30 314.20,348.30" fill="#fff" stroke="#14148a" stroke-width="1.25"/>
<polygon points="323.00,350.90 325.80,355.00 320.20,355.00" fill="#fff" stroke="#14148a" stroke-width="1.25"/>
<polygon points="325.90,354.20 328.70,358.30 323.10,358.30" fill="#fff" stroke="#14148a" stroke-width="1.25"/>
<polygon points="329.60,356.70 332.40,360.80 326.80,360.80" fill="#fff" stroke="#14148a" stroke-width="1.25"/>
<polygon points="331.40,362.60 334.20,366.70 328.60,366.70" fill="#fff" stroke="#14148a" stroke-width="1.25"/>
<polygon points="332.50,364.10 335.30,368.20 329.70,368.20" fill="#fff" stroke="#14148a" stroke-width="1.25"/>
<polygon points="334.50,370.40 337.30,374.50 331.70,374.50" fill="#fff" stroke="#14148a" stroke-width="1.25"/>
<polygon points="338.60,386.40 341.40,390.50 335.80,390.50" fill="#fff" stroke="#14148a" stroke-width="1.25"/>
<rect x="78.4" y="298.0" width="134.6" height="92.0" fill="#fff" stroke="#000" stroke-width="1.4"/>
<line x1="91.91" y1="390.00" x2="91.91" y2="388.00" stroke="#000" stroke-width="1.0" />
<line x1="91.91" y1="298.00" x2="91.91" y2="300.00" stroke="#000" stroke-width="1.0" />
<line x1="99.81" y1="390.00" x2="99.81" y2="388.00" stroke="#000" stroke-width="1.0" />
<line x1="99.81" y1="298.00" x2="99.81" y2="300.00" stroke="#000" stroke-width="1.0" />
<line x1="105.41" y1="390.00" x2="105.41" y2="388.00" stroke="#000" stroke-width="1.0" />
<line x1="105.41" y1="298.00" x2="105.41" y2="300.00" stroke="#000" stroke-width="1.0" />
<line x1="109.76" y1="390.00" x2="109.76" y2="388.00" stroke="#000" stroke-width="1.0" />
<line x1="109.76" y1="298.00" x2="109.76" y2="300.00" stroke="#000" stroke-width="1.0" />
<line x1="113.31" y1="390.00" x2="113.31" y2="388.00" stroke="#000" stroke-width="1.0" />
<line x1="113.31" y1="298.00" x2="113.31" y2="300.00" stroke="#000" stroke-width="1.0" />
<line x1="116.32" y1="390.00" x2="116.32" y2="388.00" stroke="#000" stroke-width="1.0" />
<line x1="116.32" y1="298.00" x2="116.32" y2="300.00" stroke="#000" stroke-width="1.0" />
<line x1="118.92" y1="390.00" x2="118.92" y2="388.00" stroke="#000" stroke-width="1.0" />
<line x1="118.92" y1="298.00" x2="118.92" y2="300.00" stroke="#000" stroke-width="1.0" />
<line x1="121.21" y1="390.00" x2="121.21" y2="388.00" stroke="#000" stroke-width="1.0" />
<line x1="121.21" y1="298.00" x2="121.21" y2="300.00" stroke="#000" stroke-width="1.0" />
<line x1="123.27" y1="390.00" x2="123.27" y2="386.50" stroke="#000" stroke-width="1.0" />
<line x1="123.27" y1="298.00" x2="123.27" y2="301.50" stroke="#000" stroke-width="1.0" />
<line x1="136.77" y1="390.00" x2="136.77" y2="388.00" stroke="#000" stroke-width="1.0" />
<line x1="136.77" y1="298.00" x2="136.77" y2="300.00" stroke="#000" stroke-width="1.0" />
<line x1="144.67" y1="390.00" x2="144.67" y2="388.00" stroke="#000" stroke-width="1.0" />
<line x1="144.67" y1="298.00" x2="144.67" y2="300.00" stroke="#000" stroke-width="1.0" />
<line x1="150.28" y1="390.00" x2="150.28" y2="388.00" stroke="#000" stroke-width="1.0" />
<line x1="150.28" y1="298.00" x2="150.28" y2="300.00" stroke="#000" stroke-width="1.0" />
<line x1="154.63" y1="390.00" x2="154.63" y2="388.00" stroke="#000" stroke-width="1.0" />
<line x1="154.63" y1="298.00" x2="154.63" y2="300.00" stroke="#000" stroke-width="1.0" />
<line x1="158.18" y1="390.00" x2="158.18" y2="388.00" stroke="#000" stroke-width="1.0" />
<line x1="158.18" y1="298.00" x2="158.18" y2="300.00" stroke="#000" stroke-width="1.0" />
<line x1="161.18" y1="390.00" x2="161.18" y2="388.00" stroke="#000" stroke-width="1.0" />
<line x1="161.18" y1="298.00" x2="161.18" y2="300.00" stroke="#000" stroke-width="1.0" />
<line x1="163.79" y1="390.00" x2="163.79" y2="388.00" stroke="#000" stroke-width="1.0" />
<line x1="163.79" y1="298.00" x2="163.79" y2="300.00" stroke="#000" stroke-width="1.0" />
<line x1="166.08" y1="390.00" x2="166.08" y2="388.00" stroke="#000" stroke-width="1.0" />
<line x1="166.08" y1="298.00" x2="166.08" y2="300.00" stroke="#000" stroke-width="1.0" />
<line x1="168.13" y1="390.00" x2="168.13" y2="386.50" stroke="#000" stroke-width="1.0" />
<line x1="168.13" y1="298.00" x2="168.13" y2="301.50" stroke="#000" stroke-width="1.0" />
<line x1="181.64" y1="390.00" x2="181.64" y2="388.00" stroke="#000" stroke-width="1.0" />
<line x1="181.64" y1="298.00" x2="181.64" y2="300.00" stroke="#000" stroke-width="1.0" />
<line x1="189.54" y1="390.00" x2="189.54" y2="388.00" stroke="#000" stroke-width="1.0" />
<line x1="189.54" y1="298.00" x2="189.54" y2="300.00" stroke="#000" stroke-width="1.0" />
<line x1="195.15" y1="390.00" x2="195.15" y2="388.00" stroke="#000" stroke-width="1.0" />
<line x1="195.15" y1="298.00" x2="195.15" y2="300.00" stroke="#000" stroke-width="1.0" />
<line x1="199.49" y1="390.00" x2="199.49" y2="388.00" stroke="#000" stroke-width="1.0" />
<line x1="199.49" y1="298.00" x2="199.49" y2="300.00" stroke="#000" stroke-width="1.0" />
<line x1="203.05" y1="390.00" x2="203.05" y2="388.00" stroke="#000" stroke-width="1.0" />
<line x1="203.05" y1="298.00" x2="203.05" y2="300.00" stroke="#000" stroke-width="1.0" />
<line x1="206.05" y1="390.00" x2="206.05" y2="388.00" stroke="#000" stroke-width="1.0" />
<line x1="206.05" y1="298.00" x2="206.05" y2="300.00" stroke="#000" stroke-width="1.0" />
<line x1="208.65" y1="390.00" x2="208.65" y2="388.00" stroke="#000" stroke-width="1.0" />
<line x1="208.65" y1="298.00" x2="208.65" y2="300.00" stroke="#000" stroke-width="1.0" />
<line x1="210.95" y1="390.00" x2="210.95" y2="388.00" stroke="#000" stroke-width="1.0" />
<line x1="210.95" y1="298.00" x2="210.95" y2="300.00" stroke="#000" stroke-width="1.0" />
<line x1="78.40" y1="312.40" x2="81.60" y2="312.40" stroke="#000" stroke-width="1.0" />
<line x1="213.00" y1="312.40" x2="209.80" y2="312.40" stroke="#000" stroke-width="1.0" />
<line x1="78.40" y1="342.20" x2="81.60" y2="342.20" stroke="#000" stroke-width="1.0" />
<line x1="213.00" y1="342.20" x2="209.80" y2="342.20" stroke="#000" stroke-width="1.0" />
<line x1="78.40" y1="372.20" x2="81.60" y2="372.20" stroke="#000" stroke-width="1.0" />
<line x1="213.00" y1="372.20" x2="209.80" y2="372.20" stroke="#000" stroke-width="1.0" />
<line x1="78.40" y1="318.00" x2="213.00" y2="382.60" stroke="#2a2aff" stroke-width="1.3" />
<polyline points="78.70,309.50 79.64,310.08 80.80,310.80 82.16,311.64 83.68,312.58 85.34,313.60 87.11,314.69 88.95,315.84 90.84,317.01 92.75,318.20 94.65,319.39 96.51,320.56 98.30,321.70 100.06,322.84 101.86,324.01 103.69,325.23 105.53,326.46 107.40,327.72 109.28,328.98 111.17,330.23 113.07,331.48 114.96,332.71 116.85,333.91 118.73,335.08 120.60,336.20 122.49,337.30 124.42,338.39 126.39,339.48 128.37,340.56 130.36,341.61 132.32,342.64 134.26,343.65 136.15,344.61 137.97,345.54 139.72,346.41 141.36,347.24 142.90,348.00 144.29,348.68 145.55,349.27 146.68,349.78 147.73,350.23 148.71,350.64 149.66,351.02 150.59,351.40 151.54,351.79 152.53,352.21 153.58,352.67 154.73,353.20 156.00,353.80 157.37,354.48 158.81,355.20 160.31,355.97 161.86,356.77 163.45,357.59 165.07,358.44 166.71,359.31 168.37,360.18 170.04,361.05 171.71,361.91 173.36,362.77 175.00,363.60 176.64,364.43 178.30,365.26 179.99,366.10 181.69,366.94 183.39,367.79 185.09,368.63 186.79,369.47 188.48,370.30 190.15,371.12 191.80,371.93 193.42,372.72 195.00,373.50 196.60,374.28 198.26,375.10 199.96,375.92 201.67,376.75 203.36,377.57 205.00,378.37 206.58,379.13 208.06,379.85 209.41,380.51 210.62,381.09 211.66,381.59 212.50,382.00" fill="none" stroke="#ff3030" stroke-width="1.2" stroke-dasharray="3 2.5"/>
<polygon points="86.5,328.0 89.4,333.2 83.6,333.2" fill="#fff" stroke="#14148a" stroke-width="1.3"/>
<rect x="60.3" y="226.7" width="288.2" height="189.60000000000002" fill="none" stroke="#000" stroke-width="1.7"/>
<line x1="63.50" y1="416.30" x2="63.50" y2="411.30" stroke="#000" stroke-width="1.3" />
<line x1="63.50" y1="226.70" x2="63.50" y2="231.70" stroke="#000" stroke-width="1.3" />
<line x1="91.19" y1="416.30" x2="91.19" y2="413.30" stroke="#000" stroke-width="1.3" />
<line x1="91.19" y1="226.70" x2="91.19" y2="229.70" stroke="#000" stroke-width="1.3" />
<line x1="118.88" y1="416.30" x2="118.88" y2="411.30" stroke="#000" stroke-width="1.3" />
<line x1="118.88" y1="226.70" x2="118.88" y2="231.70" stroke="#000" stroke-width="1.3" />
<line x1="146.57" y1="416.30" x2="146.57" y2="413.30" stroke="#000" stroke-width="1.3" />
<line x1="146.57" y1="226.70" x2="146.57" y2="229.70" stroke="#000" stroke-width="1.3" />
<line x1="174.26" y1="416.30" x2="174.26" y2="411.30" stroke="#000" stroke-width="1.3" />
<line x1="174.26" y1="226.70" x2="174.26" y2="231.70" stroke="#000" stroke-width="1.3" />
<line x1="201.95" y1="416.30" x2="201.95" y2="413.30" stroke="#000" stroke-width="1.3" />
<line x1="201.95" y1="226.70" x2="201.95" y2="229.70" stroke="#000" stroke-width="1.3" />
<line x1="229.64" y1="416.30" x2="229.64" y2="411.30" stroke="#000" stroke-width="1.3" />
<line x1="229.64" y1="226.70" x2="229.64" y2="231.70" stroke="#000" stroke-width="1.3" />
<line x1="257.33" y1="416.30" x2="257.33" y2="413.30" stroke="#000" stroke-width="1.3" />
<line x1="257.33" y1="226.70" x2="257.33" y2="229.70" stroke="#000" stroke-width="1.3" />
<line x1="285.02" y1="416.30" x2="285.02" y2="411.30" stroke="#000" stroke-width="1.3" />
<line x1="285.02" y1="226.70" x2="285.02" y2="231.70" stroke="#000" stroke-width="1.3" />
<line x1="312.71" y1="416.30" x2="312.71" y2="413.30" stroke="#000" stroke-width="1.3" />
<line x1="312.71" y1="226.70" x2="312.71" y2="229.70" stroke="#000" stroke-width="1.3" />
<line x1="340.40" y1="416.30" x2="340.40" y2="411.30" stroke="#000" stroke-width="1.3" />
<line x1="340.40" y1="226.70" x2="340.40" y2="231.70" stroke="#000" stroke-width="1.3" />
<line x1="60.30" y1="395.58" x2="65.30" y2="395.58" stroke="#000" stroke-width="1.3" />
<line x1="348.50" y1="395.58" x2="343.50" y2="395.58" stroke="#000" stroke-width="1.3" />
<line x1="60.30" y1="365.66" x2="63.30" y2="365.66" stroke="#000" stroke-width="1.3" />
<line x1="348.50" y1="365.66" x2="345.50" y2="365.66" stroke="#000" stroke-width="1.3" />
<line x1="60.30" y1="348.15" x2="63.30" y2="348.15" stroke="#000" stroke-width="1.3" />
<line x1="348.50" y1="348.15" x2="345.50" y2="348.15" stroke="#000" stroke-width="1.3" />
<line x1="60.30" y1="335.73" x2="63.30" y2="335.73" stroke="#000" stroke-width="1.3" />
<line x1="348.50" y1="335.73" x2="345.50" y2="335.73" stroke="#000" stroke-width="1.3" />
<line x1="60.30" y1="326.10" x2="63.30" y2="326.10" stroke="#000" stroke-width="1.3" />
<line x1="348.50" y1="326.10" x2="345.50" y2="326.10" stroke="#000" stroke-width="1.3" />
<line x1="60.30" y1="318.23" x2="63.30" y2="318.23" stroke="#000" stroke-width="1.3" />
<line x1="348.50" y1="318.23" x2="345.50" y2="318.23" stroke="#000" stroke-width="1.3" />
<line x1="60.30" y1="311.57" x2="63.30" y2="311.57" stroke="#000" stroke-width="1.3" />
<line x1="348.50" y1="311.57" x2="345.50" y2="311.57" stroke="#000" stroke-width="1.3" />
<line x1="60.30" y1="305.81" x2="63.30" y2="305.81" stroke="#000" stroke-width="1.3" />
<line x1="348.50" y1="305.81" x2="345.50" y2="305.81" stroke="#000" stroke-width="1.3" />
<line x1="60.30" y1="300.73" x2="63.30" y2="300.73" stroke="#000" stroke-width="1.3" />
<line x1="348.50" y1="300.73" x2="345.50" y2="300.73" stroke="#000" stroke-width="1.3" />
<line x1="60.30" y1="296.18" x2="65.30" y2="296.18" stroke="#000" stroke-width="1.3" />
<line x1="348.50" y1="296.18" x2="343.50" y2="296.18" stroke="#000" stroke-width="1.3" />
<line x1="60.30" y1="266.26" x2="63.30" y2="266.26" stroke="#000" stroke-width="1.3" />
<line x1="348.50" y1="266.26" x2="345.50" y2="266.26" stroke="#000" stroke-width="1.3" />
<line x1="60.30" y1="248.75" x2="63.30" y2="248.75" stroke="#000" stroke-width="1.3" />
<line x1="348.50" y1="248.75" x2="345.50" y2="248.75" stroke="#000" stroke-width="1.3" />
<line x1="60.30" y1="236.33" x2="63.30" y2="236.33" stroke="#000" stroke-width="1.3" />
<line x1="348.50" y1="236.33" x2="345.50" y2="236.33" stroke="#000" stroke-width="1.3" />
<polygon points="234.5,239.9 237.3,244.0 231.7,244.0" fill="#fff" stroke="#14148a" stroke-width="1.3"/>
<line x1="220.00" y1="257.60" x2="249.30" y2="257.60" stroke="#1f1fff" stroke-width="2.0" />
<line x1="220.00" y1="273.50" x2="241.00" y2="273.50" stroke="#ff1a1a" stroke-width="2.0" stroke-dasharray="6.6 7.2"/>
<text id="ty5e6" transform="translate(23.815,11.100) scale(1.0855,1.0700)" font-size="11.3" text-anchor="start">5x10<tspan font-size="6.33" dx="-0.20" dy="-5.20">6</tspan></text>
<text id="ty1e6" transform="translate(24.027,63.900) scale(1.0700,1.0700)" font-size="11.3" text-anchor="start">1x10<tspan font-size="6.33" dx="-0.20" dy="-5.20">6</tspan></text>
<text id="ty1e5" transform="translate(24.614,136.400) scale(1.0564,1.0700)" font-size="11.3" text-anchor="start">1x10<tspan font-size="6.33" dx="-0.20" dy="-5.20">5</tspan></text>
<text id="ty3e5" transform="translate(24.000,175.100) scale(1.0820,1.0700)" font-size="11.3" text-anchor="start">3x10<tspan font-size="6.33" dx="-0.20" dy="-5.20">5</tspan></text>
<text id="tx0.5" transform="translate(99.000,187.400) scale(1.0686,1.0700)" font-size="11.3" text-anchor="start">0.5</text>
<text id="tx1.0" transform="translate(159.784,187.400) scale(1.0946,1.0700)" font-size="11.3" text-anchor="start">1.0</text>
<text id="tx1.5" transform="translate(220.588,187.400) scale(1.0837,1.0700)" font-size="11.3" text-anchor="start">1.5</text>
<text id="tx2.0" transform="translate(279.585,187.400) scale(1.1482,1.0700)" font-size="11.3" text-anchor="start">2.0</text>
<text id="tx2.5" transform="translate(340.401,187.400) scale(1.1080,1.0700)" font-size="11.3" text-anchor="start">2.5</text>
<text id="txlab" transform="translate(166.966,202.100) scale(1.1724,1.0700)" font-size="11.3" text-anchor="start">1/E<tspan font-size="7.2" dy="4.2">in</tspan><tspan dy="-4.2">(cm/MV)</tspan></text>
<text id="tylab" transform="translate(19.800,91.100) rotate(-90) scale(1.1700,1.0000)" font-size="12.0" text-anchor="start">α(cm<tspan font-size="7.2" dy="-5.6">-1</tspan><tspan dy="5.6">)</tspan></text>
<text id="ta" transform="translate(72.506,159.000) scale(1.0840,1.0700)" font-size="16.3" text-anchor="start">(a)</text>
<text id="leg0" transform="translate(182.991,27.200) scale(1.0597,1.0700)" font-size="11.0" text-anchor="start">Initial density of carriers (cm<tspan font-size="6.60" dx="0.20" dy="-5.50">-3</tspan><tspan dy="5.50">)</tspan></text>
<text id="leg1" transform="translate(209.610,43.300) scale(1.0202,1.0700)" font-size="11.0" text-anchor="start">1.5x10<tspan font-size="6.60" dx="0.20" dy="-5.50">10</tspan></text>
<text id="leg2" transform="translate(286.188,42.600) scale(1.0952,1.0700)" font-size="11.0" text-anchor="start">4.5x10<tspan font-size="6.60" dx="0.20" dy="-5.50">18</tspan></text>
<text id="leg3" transform="translate(212.584,58.600) scale(1.0559,1.0700)" font-size="11.0" text-anchor="start">1.3x10<tspan font-size="6.60" dx="0.20" dy="-5.50">19</tspan></text>
<text id="leg4" transform="translate(290.787,58.600) scale(1.0653,1.0700)" font-size="11.0" text-anchor="start">4.1x10<tspan font-size="6.60" dx="0.20" dy="-5.50">19</tspan></text>
<text id="leg5" transform="translate(211.994,73.600) scale(1.0535,1.0700)" font-size="11.0" text-anchor="start">Overstaeten</text>
<text id="leg6" transform="translate(211.982,87.600) scale(1.0691,1.0700)" font-size="11.0" text-anchor="start">Grant</text>
<text id="leg7" transform="translate(289.041,87.800) scale(0.9606,1.0700)" font-size="11.0" text-anchor="start">Okuto limit</text>
<text id="in10" transform="translate(70.442,403.500) scale(1.0428,1.0700)" font-size="9.0" text-anchor="start">10<tspan font-size="5.40" dx="0.30" dy="-4.50">10</tspan></text>
<text id="in11" transform="translate(115.204,403.500) scale(1.0548,1.0700)" font-size="9.0" text-anchor="start">10<tspan font-size="5.40" dx="0.30" dy="-4.50">11</tspan></text>
<text id="in12" transform="translate(160.214,403.500) scale(1.0616,1.0700)" font-size="9.0" text-anchor="start">10<tspan font-size="5.40" dx="0.30" dy="-4.50">12</tspan></text>
<text id="in13" transform="translate(205.179,403.500) scale(1.0920,1.0700)" font-size="9.0" text-anchor="start">10<tspan font-size="5.40" dx="0.30" dy="-4.50">13</tspan></text>
<text id="by5e6" transform="translate(25.575,233.500) scale(1.1477,1.0700)" font-size="11.3" text-anchor="start">5x10<tspan font-size="6.33" dx="-0.20" dy="-5.20">6</tspan></text>
<text id="by1e6" transform="translate(24.537,300.300) scale(1.1608,1.0700)" font-size="11.3" text-anchor="start">1x10<tspan font-size="6.33" dx="-0.20" dy="-5.20">6</tspan></text>
<text id="by1e5" transform="translate(24.537,399.600) scale(1.1608,1.0700)" font-size="11.3" text-anchor="start">1x10<tspan font-size="6.33" dx="-0.20" dy="-5.20">5</tspan></text>
<text id="bx10" transform="translate(52.881,433.600) scale(1.0256,1.0700)" font-size="11.3" text-anchor="start">10<tspan font-size="7.01" dx="1.20" dy="-6.22">10</tspan></text>
<text id="bx12" transform="translate(107.659,433.600) scale(1.0458,1.0700)" font-size="11.3" text-anchor="start">10<tspan font-size="7.01" dx="1.20" dy="-6.22">12</tspan></text>
<text id="bx14" transform="translate(163.672,433.600) scale(0.9880,1.0700)" font-size="11.3" text-anchor="start">10<tspan font-size="7.01" dx="1.20" dy="-6.22">14</tspan></text>
<text id="bx16" transform="translate(219.670,433.600) scale(0.9739,1.0700)" font-size="11.3" text-anchor="start">10<tspan font-size="7.01" dx="1.20" dy="-6.22">16</tspan></text>
<text id="bx18" transform="translate(274.242,433.600) scale(1.0333,1.0700)" font-size="11.3" text-anchor="start">10<tspan font-size="7.01" dx="1.20" dy="-6.22">18</tspan></text>
<text id="bx20" transform="translate(328.195,433.600) scale(1.0504,1.0700)" font-size="11.3" text-anchor="start">10<tspan font-size="7.01" dx="1.20" dy="-6.22">20</tspan></text>
<text id="btitle" transform="translate(110.962,453.900) scale(1.1261,1.0700)" font-size="13.0" text-anchor="start">Initial carrier density (cm<tspan font-size="7.15" dx="0.30" dy="-5.72">-3</tspan><tspan dy="5.72">)</tspan></text>
<text id="bylab" transform="translate(15.000,337.800) rotate(-90) scale(1.1600,1.0000)" font-size="13.0" text-anchor="start">α<tspan font-size="7.8" dy="3.2">0</tspan><tspan dy="-3.2">(cm</tspan><tspan font-size="7.6" dy="-7.4">-1</tspan><tspan dy="7.4">)</tspan></text>
<text id="tb" transform="translate(125.831,248.300) scale(1.2012,1.0700)" font-size="16.3" text-anchor="start">(b)</text>
<text id="bleg1" transform="translate(254.389,246.700) scale(1.1147,1.0700)" font-size="11.3" text-anchor="start">Measurement</text>
<text id="bleg2" transform="translate(254.391,261.800) scale(1.1130,1.0700)" font-size="11.3" text-anchor="start">No Zener</text>
<text id="bleg3" transform="translate(255.403,276.800) scale(1.0524,1.0700)" font-size="11.3" text-anchor="start">Zener</text>
</svg>
</body></html>
